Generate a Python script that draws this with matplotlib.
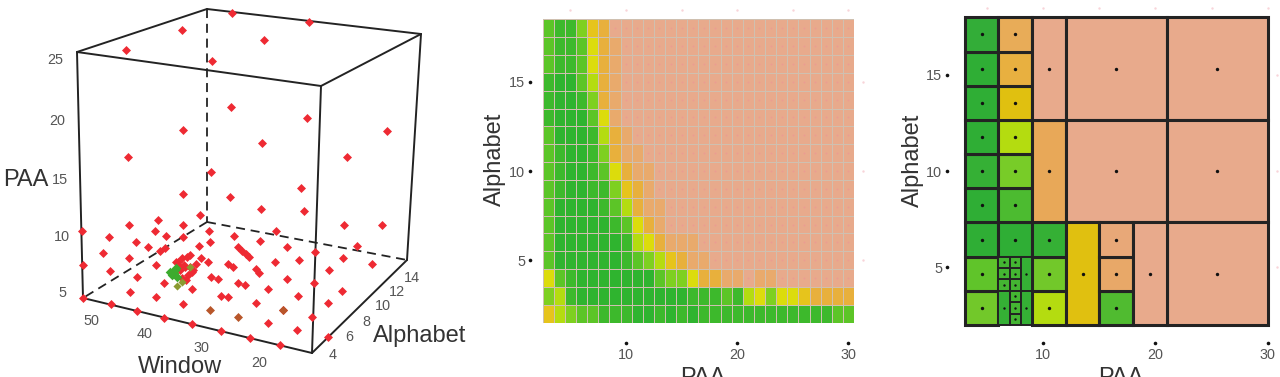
import numpy as np
import matplotlib
matplotlib.use("Agg")
import matplotlib.pyplot as plt
from matplotlib.colors import ListedColormap, BoundaryNorm
from matplotlib.patches import Rectangle

plt.rcParams['font.family'] = ['Liberation Sans', 'DejaVu Sans']
W, H = 1280, 377
TICK = '#555555'
LAB = '#333333'
DARK = '#232323'

# colour levels, best to worst
level_colors = ['#2fb42f', '#3db92c', '#5cc527', '#7ed020', '#b4dc10', '#dcdc0c',
                '#e6c41c', '#e8b03c', '#e9aa6c', '#e8aa8c']

# ---------- panel 1: projected read-offs of the 3D view (picture pixels) ----------
cube_solid = [((77, 52), (321, 86)), ((321, 86), (421, 34)), ((421, 34), (207, 9)), ((207, 9), (77, 52)),
              ((77, 52), (83, 298)), ((321, 86), (312, 353)), ((421, 34), (407, 260)),
              ((83, 298), (312, 353)), ((312, 353), (407, 260))]
cube_dashed = [((207, 9), (207, 222)), ((207, 222), (83, 298)), ((207, 222), (407, 260))]
red_x = [126, 182, 232, 264, 309, 212, 231, 307, 183, 262, 387, 128, 347, 211, 301, 183, 230, 261, 304, 200,
         344, 382, 129, 158, 183, 155, 209, 276, 82, 109, 166, 183, 234, 136, 210, 260, 287, 315, 357, 148,
         199, 103, 160, 165, 238, 242, 246, 249, 129, 201, 343, 275, 299, 372, 83, 156, 208, 228, 233, 110,
         329, 256, 259, 137, 211, 218, 287, 164, 238, 245, 314, 130, 192, 268, 342, 156, 221, 228, 298, 83,
         328, 111, 183, 256, 283, 137, 164, 268, 312, 192, 221, 297, 250, 280, 328,
         182, 187, 178, 185, 190, 188, 182, 193, 180, 176, 184, 192, 196, 186, 179, 190]
red_y = [50, 30, 13, 40, 22, 61, 107, 118, 130, 143, 131, 157, 157, 172, 188, 194, 197, 209, 211, 215,
         225, 225, 225, 220, 225, 231, 231, 231, 231, 237, 236, 237, 236, 242, 242, 241, 247, 252, 246, 247,
         246, 253, 251, 248, 247, 251, 254, 257, 258, 258, 258, 262, 260, 264, 265, 265, 262, 264, 267, 271,
         270, 269, 273, 277, 277, 279, 279, 283, 283, 285, 283, 292, 289, 289, 291, 297, 296, 297, 296, 298,
         303, 304, 304, 303, 310, 311, 318, 323, 317, 324, 331, 330, 338, 345, 337,
         258, 257, 262, 267, 267, 275, 278, 270, 270, 262, 265, 272, 264, 280, 266, 255]
brown_x = [210, 238, 283]
brown_y = [310, 317, 310]
olive_x = [190, 182, 177]
olive_y = [267, 282, 286]
green_x = [170, 175, 177, 172, 174, 176]
green_y = [272, 270, 277, 275, 273, 268]

paa_ticks = ['25', '20', '15', '10', '5']
paa_pos = [(55, 60), (57, 121), (60, 180), (62, 237), (62, 293)]
win_ticks = ['50', '40', '30', '20']
win_pos = [(91, 321), (145, 334), (201, 348), (259, 363)]
alpha_ticks = ['4', '6', '8', '10', '12', '14']
alpha_pos = [(333, 355), (349, 337), (366, 322), (383, 306), (397, 292), (412, 278)]

# ---------- panel 2: heat map, columns PAA 3..30, rows Alphabet 18..2 ----------
heat_paa = list(range(3, 31))
heat_alphabet = list(range(18, 1, -1))
heat_rows = [
    [2, 1, 1, 3, 6, 7, 9, 9, 9, 9, 9, 9, 9, 9, 9, 9, 9, 9, 9, 9, 9, 9, 9, 9, 9, 9, 9, 9],
    [2, 1, 1, 2, 5, 7, 8, 9, 9, 9, 9, 9, 9, 9, 9, 9, 9, 9, 9, 9, 9, 9, 9, 9, 9, 9, 9, 9],
    [2, 1, 1, 2, 5, 7, 8, 9, 9, 9, 9, 9, 9, 9, 9, 9, 9, 9, 9, 9, 9, 9, 9, 9, 9, 9, 9, 9],
    [1, 0, 0, 2, 4, 7, 8, 9, 9, 9, 9, 9, 9, 9, 9, 9, 9, 9, 9, 9, 9, 9, 9, 9, 9, 9, 9, 9],
    [1, 0, 0, 1, 3, 7, 8, 9, 9, 9, 9, 9, 9, 9, 9, 9, 9, 9, 9, 9, 9, 9, 9, 9, 9, 9, 9, 9],
    [1, 0, 0, 0, 2, 5, 8, 9, 9, 9, 9, 9, 9, 9, 9, 9, 9, 9, 9, 9, 9, 9, 9, 9, 9, 9, 9, 9],
    [2, 0, 0, 0, 1, 4, 7, 8, 9, 9, 9, 9, 9, 9, 9, 9, 9, 9, 9, 9, 9, 9, 9, 9, 9, 9, 9, 9],
    [2, 1, 0, 0, 1, 3, 7, 8, 8, 9, 9, 9, 9, 9, 9, 9, 9, 9, 9, 9, 9, 9, 9, 9, 9, 9, 9, 9],
    [2, 1, 0, 0, 1, 2, 5, 7, 8, 8, 9, 9, 9, 9, 9, 9, 9, 9, 9, 9, 9, 9, 9, 9, 9, 9, 9, 9],
    [2, 1, 0, 0, 1, 1, 3, 6, 7, 8, 9, 9, 9, 9, 9, 9, 9, 9, 9, 9, 9, 9, 9, 9, 9, 9, 9, 9],
    [2, 0, 0, 0, 0, 1, 2, 4, 7, 8, 8, 9, 9, 9, 9, 9, 9, 9, 9, 9, 9, 9, 9, 9, 9, 9, 9, 9],
    [2, 0, 0, 0, 0, 0, 1, 2, 5, 7, 8, 9, 9, 9, 9, 9, 9, 9, 9, 9, 9, 9, 9, 9, 9, 9, 9, 9],
    [2, 0, 0, 0, 0, 0, 0, 1, 4, 5, 7, 8, 8, 8, 9, 9, 9, 9, 9, 9, 9, 9, 9, 9, 9, 9, 9, 9],
    [2, 0, 0, 0, 0, 0, 0, 1, 2, 3, 4, 6, 7, 8, 8, 9, 9, 9, 9, 9, 9, 9, 9, 9, 9, 9, 9, 9],
    [5, 2, 1, 0, 0, 0, 0, 0, 0, 0, 2, 3, 3, 5, 7, 7, 8, 8, 9, 8, 8, 9, 9, 9, 9, 9, 9, 9],
    [3, 4, 1, 0, 0, 0, 0, 0, 0, 0, 0, 0, 0, 1, 1, 1, 2, 1, 4, 5, 3, 5, 5, 6, 7, 7, 7, 7],
    [6, 4, 3, 2, 2, 1, 1, 1, 0, 0, 1, 0, 1, 0, 1, 1, 1, 1, 1, 1, 1, 1, 1, 1, 1, 1, 2, 2],
]

# ---------- panel 3: DIRECT-style rectangles: PAA from/to, Alphabet from/to, colour ----------
tree_x0 = [3, 3, 3, 3, 3, 3, 3, 3, 3,
           6, 6, 6, 6, 6, 6, 6,
           9, 9, 9, 9, 9,
           12, 12, 21, 21, 21,
           12, 15, 15, 15, 18,
           6, 6, 6, 7, 7, 7, 8,
           6, 7, 7, 7, 8]
tree_x1 = [6, 6, 6, 6, 6, 6, 6, 6, 6,
           9, 9, 9, 9, 9, 9, 9,
           12, 12, 12, 12, 12,
           21, 21, 30, 30, 30,
           15, 18, 18, 18, 21,
           7, 7, 7, 8, 8, 8, 9,
           7, 8, 8, 8, 9]
tree_y0 = [2, 3.78, 5.56, 7.33, 9.11, 10.89, 12.67, 14.44, 16.22,
           5.56, 7.33, 9.11, 10.89, 12.67, 14.44, 16.22,
           2, 3.78, 5.56, 7.33, 12.67,
           12.67, 7.33, 12.67, 7.33, 2,
           2, 2, 3.78, 5.56, 2,
           3.78, 4.37, 4.96, 3.78, 4.37, 4.96, 3.78,
           2, 2, 2.59, 3.19, 2]
tree_y1 = [3.78, 5.56, 7.33, 9.11, 10.89, 12.67, 14.44, 16.22, 18,
           7.33, 9.11, 10.89, 12.67, 14.44, 16.22, 18,
           3.78, 5.56, 7.33, 12.67, 18,
           18, 12.67, 18, 12.67, 7.33,
           7.33, 3.78, 5.56, 7.33, 7.33,
           4.37, 4.96, 5.56, 4.37, 4.96, 5.56, 5.56,
           3.78, 2.59, 3.19, 3.78, 3.78]
tree_color = ['#72c82a', '#60c42a', '#2fae35', '#2fae35', '#35b035', '#2fae35', '#2fae35', '#2fae35', '#33ad38',
              '#2fae35', '#4cbb30', '#78cc28', '#b4dc10', '#e0c010', '#e8b040', '#e8ac58',
              '#b4dc10', '#72c82a', '#35b035', '#e8a858', '#e8aa8c',
              '#e8aa8c', '#e8aa8c', '#e8aa8c', '#e8aa8c', '#e8aa8c',
              '#e0c010', '#50bb30', '#e8a868', '#e8a878', '#e8aa8c',
              '#44b532', '#44b532', '#44b532', '#44b532', '#44b532', '#44b532', '#35b035',
              '#35b035', '#44b532', '#44b532', '#44b532', '#35b035']

tick_x = [10, 20, 30]
tick_y = [5, 10, 15]
faint_top_x = [5, 10, 15, 20, 25, 30]
faint_right_y = [5, 10, 15]

fig = plt.figure(figsize=(W / 100, H / 100), dpi=100, facecolor='white')


def add_px_axes(l, t, r, b):
    return fig.add_axes([l / W, 1 - b / H, (r - l) / W, (b - t) / H])


# panel 1
ax = fig.add_axes([0, 0, 480 / W, 1])
ax.set_xlim(0, 480)
ax.set_ylim(377, 0)
ax.axis('off')
for a, b in cube_dashed:
    ax.plot([a[0], b[0]], [a[1], b[1]], color=DARK, lw=1.3, dashes=(5, 3.2), zorder=1)
for a, b in cube_solid:
    ax.plot([a[0], b[0]], [a[1], b[1]], color=DARK, lw=1.4, solid_capstyle='round', zorder=2)
ax.scatter(red_x, red_y, marker='D', s=21, color='#ee2a33', lw=0, zorder=3)
ax.scatter(brown_x, brown_y, marker='D', s=21, color='#b8562a', lw=0, zorder=3)
ax.scatter(olive_x, olive_y, marker='D', s=17, color='#8a9a30', lw=0, zorder=4)
ax.scatter(green_x, green_y, marker='D', s=24, color='#3cab2e', lw=0, zorder=5)
for labels, pos in ((paa_ticks, paa_pos), (win_ticks, win_pos), (alpha_ticks, alpha_pos)):
    for s, (x, y) in zip(labels, pos):
        ax.text(x, y, s, ha='center', va='center', fontsize=10.4, color=TICK)
ax.text(26, 180, 'PAA', ha='center', va='center', fontsize=17, color=LAB)
ax.text(180, 367, 'Window', ha='center', va='center', fontsize=17, color=LAB)
ax.text(420, 336, 'Alphabet', ha='center', va='center', fontsize=17, color=LAB)


def style_axes(a, out_left, out_bottom):
    for s in a.spines.values():
        s.set_visible(False)
    a.spines['left'].set_position(('outward', out_left * 0.72))
    a.spines['bottom'].set_position(('outward', out_bottom * 0.72))
    a.set_xticks(tick_x)
    a.set_yticks(tick_y)
    a.tick_params(length=0, labelsize=10.4, labelcolor=TICK, pad=3.5)
    for t in a.xaxis.get_major_ticks() + a.yaxis.get_major_ticks():
        t.tick1line.set_marker('o')
        t.tick1line.set_markersize(2.6)
        t.tick1line.set_markerfacecolor('#111111')
        t.tick1line.set_markeredgewidth(0)
    xr = a.get_xaxis_transform()
    yr = a.get_yaxis_transform()
    a.scatter(faint_top_x, [1.03] * len(faint_top_x), transform=xr, s=3, color='#f4b8c0',
              alpha=0.6, lw=0, clip_on=False)
    a.scatter([1.03] * len(faint_right_y), faint_right_y, transform=yr, s=3, color='#f4b8c0',
              alpha=0.6, lw=0, clip_on=False)


# panel 2
ax2 = add_px_axes(542.7, 19.3, 854, 322.7)
xe = np.arange(2.5, 31.5)
ye = np.arange(18.5, 1.0, -1)
cmap = ListedColormap(level_colors)
norm = BoundaryNorm(np.arange(-0.5, 10.5), cmap.N)
Z = np.array(heat_rows)
ax2.pcolormesh(xe, ye, Z, cmap=cmap, norm=norm, edgecolors='#cfc0b0', linewidth=0.6)
ax2.set_xlim(2.5, 30.5)
ax2.set_ylim(1.5, 18.5)
px, py = np.meshgrid(heat_paa, heat_alphabet)
ax2.scatter(px[Z == 9], py[Z == 9], s=2, color='#f08c9a', alpha=0.45, lw=0)
style_axes(ax2, 12.7, 20)
fig.text(495 / W, 1 - 159 / H, 'Alphabet', rotation=90, ha='center', va='center', fontsize=17, color=LAB)
fig.text(703 / W, 1 - 378 / H, 'PAA', ha='center', va='center', fontsize=17, color=LAB)

# panel 3
ax3 = add_px_axes(964.7, 17.3, 1267.7, 325)
ax3.set_xlim(3, 30)
ax3.set_ylim(2, 18)
for x0, x1, y0, y1, c in zip(tree_x0, tree_x1, tree_y0, tree_y1, tree_color):
    small = (x1 - x0) <= 1
    ax3.add_patch(Rectangle((x0, y0), x1 - x0, y1 - y0, facecolor=c, edgecolor=DARK,
                            lw=1.4 if small else 2.2, clip_on=False, zorder=2))
    ax3.scatter((x0 + x1) / 2, (y0 + y1) / 2, s=6 if not small else 3, color='#111111', lw=0, zorder=3)
style_axes(ax3, 17.7, 18)
fig.text(913 / W, 1 - 160 / H, 'Alphabet', rotation=90, ha='center', va='center', fontsize=17, color=LAB)
fig.text(1121 / W, 1 - 378 / H, 'PAA', ha='center', va='center', fontsize=17, color=LAB)

fig.savefig('out.png', dpi=100)
